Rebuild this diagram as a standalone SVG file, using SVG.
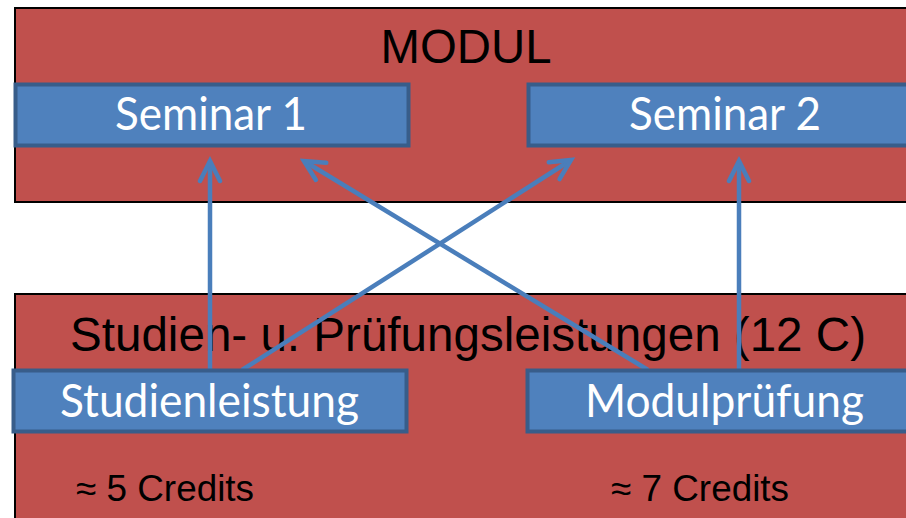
<svg xmlns="http://www.w3.org/2000/svg" width="906" height="518" viewBox="0 0 906 518">
<style>
.red{fill:#c0504d;stroke:#000;stroke-width:2}
.box{fill:#4f81bd;stroke:#385d8a;stroke-width:4}
.lbl{font-family:Lato,"Open Sans","Liberation Sans",sans-serif;fill:#fff;font-size:46px}
.hd{font-family:"Liberation Sans",Arial,sans-serif;fill:#000;font-size:48px}
.cr{font-family:"Liberation Sans",Arial,sans-serif;fill:#000;font-size:36px}
.con{stroke:#4a7ebb;stroke-width:4.5;fill:none}
</style>
<defs>
<marker id="ah" markerUnits="userSpaceOnUse" markerWidth="32" markerHeight="32" viewBox="-27 -15 32 30" refX="0" refY="0" orient="auto">
<path d="M-20,-10 L0,0 L-20,10" fill="none" stroke="#4a7ebb" stroke-width="4.5" stroke-linecap="round" stroke-linejoin="miter"/>
</marker>
</defs>
<rect width="906" height="518" fill="#fff"/>
<g id="modul">
<rect class="red" x="15" y="8" width="900" height="194"/>
<text class="hd" x="466" y="63" text-anchor="middle" textLength="171" lengthAdjust="spacingAndGlyphs">MODUL</text>
</g>
<g id="pruefung">
<rect class="red" x="15" y="294" width="900" height="240"/>
<text class="hd" x="468" y="351" text-anchor="middle" textLength="796" lengthAdjust="spacingAndGlyphs">Studien- u. Prüfungsleistungen (12 C)</text>
<text class="cr" x="76" y="501" textLength="178" lengthAdjust="spacingAndGlyphs">≈ 5 Credits</text>
<text class="cr" x="611" y="501" textLength="178" lengthAdjust="spacingAndGlyphs">≈ 7 Credits</text>
</g>
<g id="seminar1">
<rect class="box" x="15.5" y="84.5" width="393" height="61"/>
<text class="lbl" x="211" y="130" text-anchor="middle" textLength="192" lengthAdjust="spacingAndGlyphs">Seminar 1</text>
</g>
<g id="seminar2">
<rect class="box" x="528.5" y="84.5" width="400" height="61"/>
<text class="lbl" x="725" y="130" text-anchor="middle" textLength="192" lengthAdjust="spacingAndGlyphs">Seminar 2</text>
</g>
<g id="connectors">
<line class="con" x1="210" y1="369" x2="210" y2="161" marker-end="url(#ah)"/>
<line class="con" x1="242" y1="370" x2="571" y2="160" marker-end="url(#ah)"/>
<line class="con" x1="648" y1="370" x2="304" y2="161" marker-end="url(#ah)"/>
<line class="con" x1="739" y1="369" x2="739" y2="161" marker-end="url(#ah)"/>
</g>
<g id="studienleistung">
<rect class="box" x="13.5" y="370.5" width="393" height="61"/>
<text class="lbl" x="209.5" y="417" text-anchor="middle" textLength="299" lengthAdjust="spacingAndGlyphs">Studienleistung</text>
</g>
<g id="modulpruefung">
<rect class="box" x="527.5" y="370.5" width="400" height="61"/>
<text class="lbl" x="724.5" y="417" text-anchor="middle" textLength="279" lengthAdjust="spacingAndGlyphs">Modulprüfung</text>
</g>
</svg>
